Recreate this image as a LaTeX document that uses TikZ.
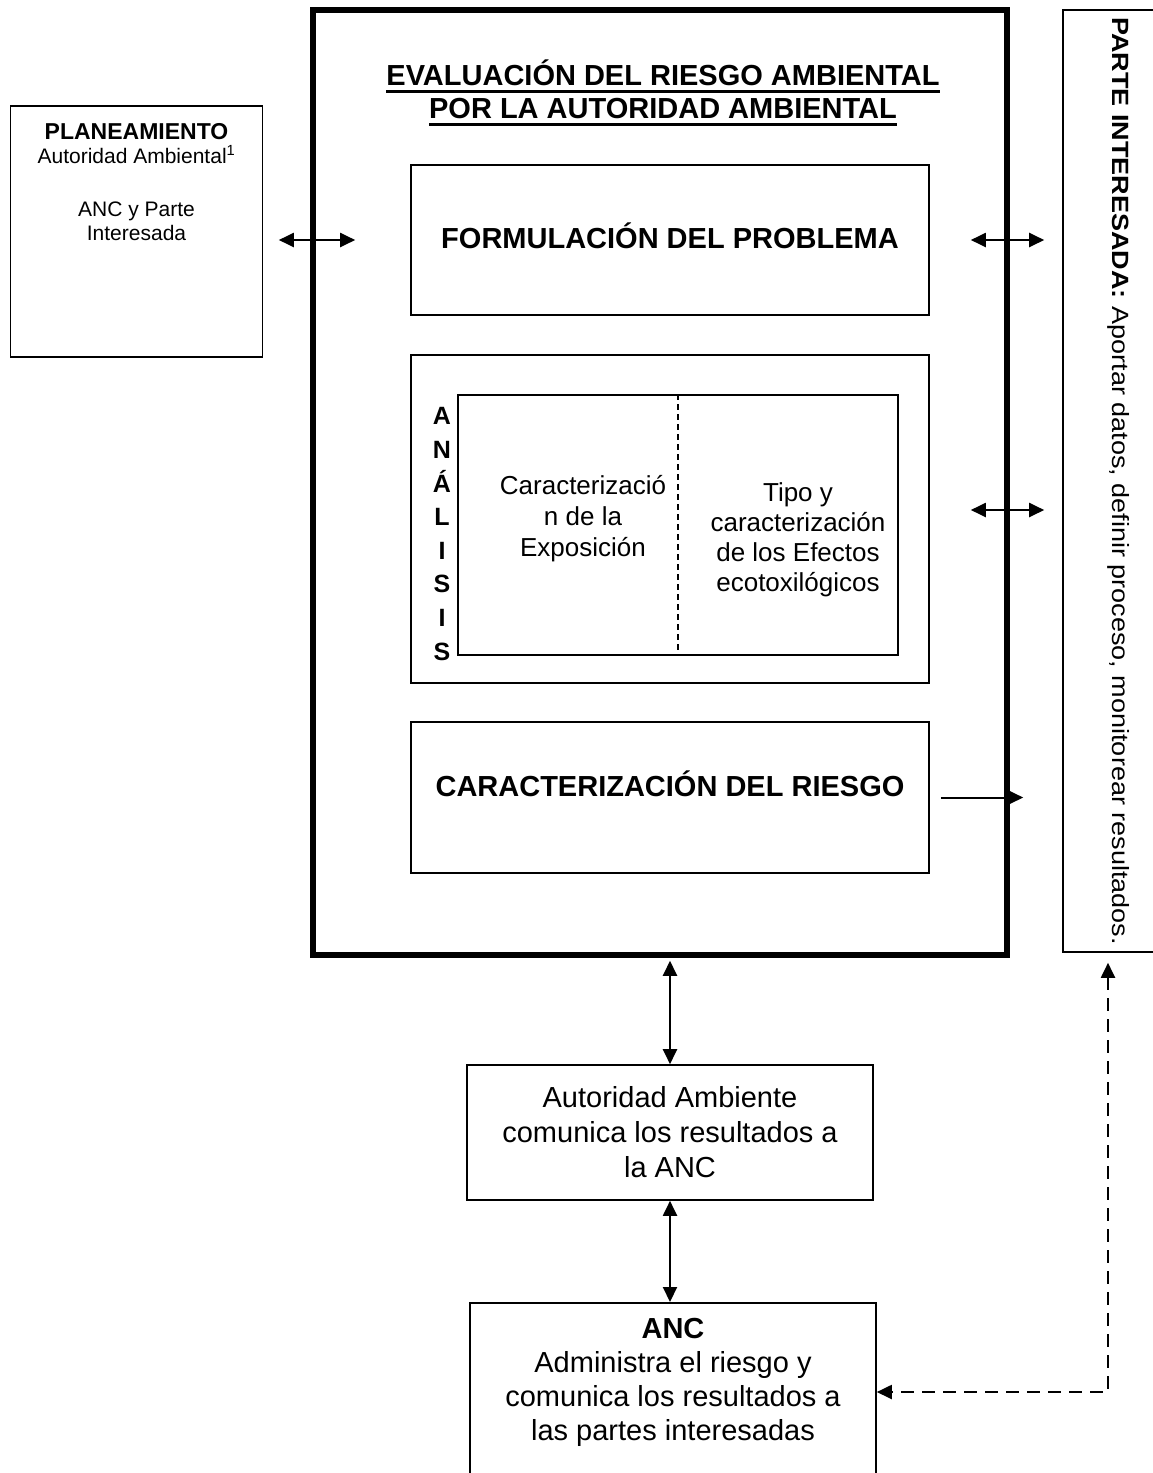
\documentclass[tikz,border=0pt]{standalone}
\usepackage{fontspec}
\setmainfont{Liberation Sans}
\newfontfamily\altafont[FakeStretch=1.15]{Liberation Sans}
\usetikzlibrary{arrows.meta,positioning}

\newcommand\thickul[1]{\vtop{\hbox{#1}\kern4pt\hrule height 3.3pt}}

\tikzset{
  caja/.style={draw, line width=1.6pt, align=center, inner sep=0pt},
  enlace/.style={line width=2pt},
  trazos/.style={enlace, dash pattern=on 13pt off 8pt},
}

\begin{document}
\begin{tikzpicture}[x=1pt, y=-1pt, >={Triangle[length=15pt,width=14pt]}]
\useasboundingbox (0,0) rectangle (1152,1473);

\node[draw, line width=5.5pt, minimum width=694pt, minimum height=945pt] (eval) at (660,482.5) {};
\node[align=center, font=\fontsize{29}{33}\selectfont\bfseries] (titulo) at (663,93)
  {\thickul{EVALUACIÓN DEL RIESGO AMBIENTAL}\\\thickul{POR LA AUTORIDAD AMBIENTAL}};

\node[caja, minimum width=518pt, minimum height=150pt, text depth=8pt, font=\bfseries\fontsize{29}{34}\selectfont] (form) at (670,240) {FORMULACIÓN DEL PROBLEMA};

\node[caja, minimum width=518pt, minimum height=328pt] (anal) at (670,519) {};
\node[caja, minimum width=440pt, minimum height=260pt] (exp) at (678,525) {};
\draw[line width=1.2pt, dash pattern=on 6pt off 4pt] (exp.north) -- (exp.south);
\node[align=center, font=\bfseries\fontsize{25}{33.6}\selectfont] (letras) at (442,534) {A\\N\\Á\\L\\I\\S\\I\\S};
\node[align=center, font=\fontsize{26}{31}\selectfont] (expotxt) at (583,519) {Caracterizació\\n de la\\Exposición};
\node[align=center, font=\fontsize{26}{30}\selectfont] (efectxt) at (798,540) {Tipo y\\caracterización\\de los Efectos\\ecotoxilógicos};

\node[caja, minimum width=518pt, minimum height=151pt, text depth=27pt, font=\bfseries\fontsize{29}{34}\selectfont] (riesgo) at (670,797.5) {CARACTERIZACIÓN DEL RIESGO};

\node[caja, minimum width=252pt, minimum height=251pt] (plan) at (136.5,231.5) {};
\node[anchor=north, align=center, inner sep=0pt, font=\fontsize{21}{24}\selectfont] (plantxt) at ([yshift=-18pt]plan.north)
  {{\bfseries\fontsize{23}{24}\selectfont PLANEAMIENTO}\\Autoridad Ambiental\textsuperscript{1}\\[29pt]ANC y Parte\\Interesada};

\node[draw, line width=1.6pt, rotate=-90, minimum width=942pt, minimum height=112pt, inner sep=0pt, font=\fontsize{23.5}{28}\selectfont\altafont] (parte) at (1119,481)
  {\textbf{PARTE INTERESADA:} Aportar datos, definir proceso, monitorear resultados.};

\node[caja, minimum width=406pt, minimum height=135pt, font=\fontsize{29}{35}\selectfont] (auto) at (670,1132.5)
  {Autoridad Ambiente\\comunica los resultados a\\la ANC};
\node[caja, anchor=north, minimum width=406pt, inner ysep=15pt, text depth=50pt, font=\fontsize{29}{34}\selectfont] (anc) at (673,1302)
  {\textbf{ANC}\\Administra el riesgo y\\comunica los resultados a\\las partes interesadas};

\coordinate (esq) at (1108,1392);

\draw[enlace, <->, shorten <=15.5pt, shorten >=55pt] (plan.east |- form.west) -- (form.west);
\draw[enlace, <->, shorten <=41pt, shorten >=18pt] (form.east) -- (form.east -| parte.south);
\draw[enlace, <->, shorten <=41pt, shorten >=18pt] ([yshift=9pt]anal.east) -- ([yshift=9pt]anal.east -| parte.south);
\draw[enlace, ->, shorten <=11pt, shorten >=39pt] (riesgo.east) -- (riesgo.east -| parte.south);
\draw[enlace, <->, shorten <=3pt] (auto.north |- eval.south) -- (auto.north);
\draw[enlace, <->] (auto.south) -- (auto.south |- anc.north);
\draw[trazos, <->, shorten <=10pt] (esq |- parte.east) -- (esq) -- (esq -| anc.east);
\end{tikzpicture}
\end{document}
